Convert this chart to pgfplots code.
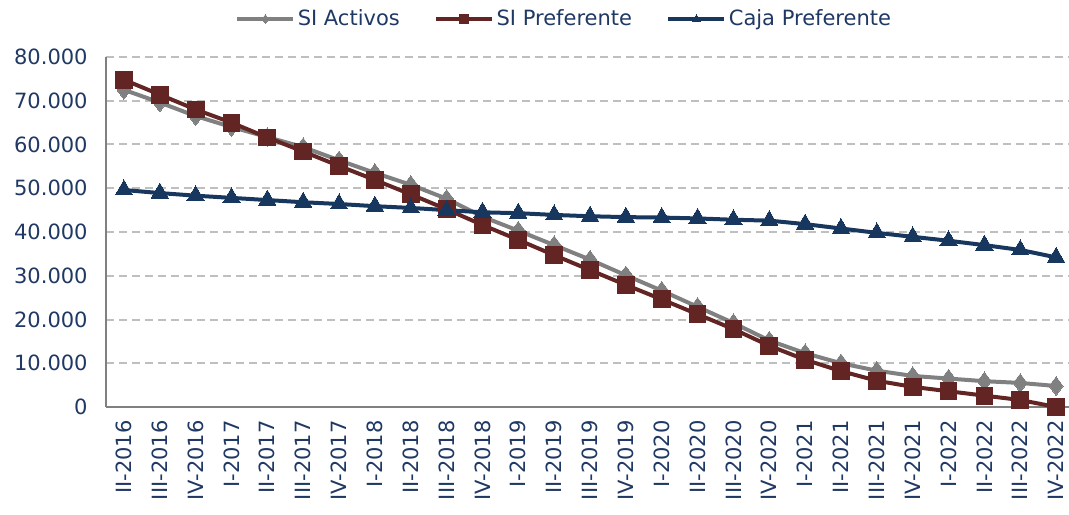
\documentclass[border=0pt]{standalone}
\usepackage{fontspec}
\setmainfont{DejaVu Sans}
\usepackage{pgfplots}
\pgfplotsset{compat=1.18}
\definecolor{sigray}{HTML}{808080}
\definecolor{sired}{HTML}{632523}
\definecolor{cajablue}{HTML}{17375E}
\definecolor{txt}{HTML}{1F3864}
\definecolor{gridc}{HTML}{BFBFBF}
\pgfplotstableread{
x act pref caja
0  72.5 74.8 49.6
1  69.6 71.4 48.9
2  66.5 68.0 48.3
3  64.0 65.0 47.8
4  61.7 61.6 47.3
5  59.4 58.4 46.8
6  56.4 55.1 46.4
7  53.5 51.9 45.9
8  50.8 48.6 45.5
9  47.6 45.2 45.0
10 43.5 41.6 44.5
11 40.3 38.2 44.3
12 37.0 34.7 43.9
13 33.7 31.3 43.6
14 30.1 27.9 43.4
15 26.6 24.6 43.3
16 22.9 21.2 43.1
17 19.2 17.8 42.8
18 15.2 14.0 42.6
19 12.3 10.8 41.8
20 10.0 8.2  40.8
21 8.3  6.0  39.8
22 7.1  4.6  38.9
23 6.5  3.6  38.0
24 5.9  2.6  37.0
25 5.5  1.6  35.9
26 4.8  0.0  34.2
}\datatable
\begin{document}
\begin{tikzpicture}
\begin{axis}[
  name=ax,
  scale only axis,
  width=481.5pt, height=175pt,
  xmin=-0.5, xmax=26.36,
  ymin=0, ymax=80,
  clip=false,
  axis x line=bottom, axis y line=left,
  axis line style={draw=sigray, line width=1pt, -},
  xtick={0,...,26},
  xticklabels={II-2016,III-2016,IV-2016,I-2017,II-2017,III-2017,IV-2017,I-2018,II-2018,III-2018,IV-2018,I-2019,II-2019,III-2019,IV-2019,I-2020,II-2020,III-2020,IV-2020,I-2021,II-2021,III-2021,IV-2021,I-2022,II-2022,III-2022,IV-2022},
  ytick={0,10,...,80},
  yticklabels={0,10.000,20.000,30.000,40.000,50.000,60.000,70.000,80.000},
  major tick length=0pt,
  ymajorgrids,
  grid style={draw=gridc, line width=1pt, dash pattern=on 4pt off 2.5pt},
  tick label style={font=\fontsize{10.5}{12}\selectfont, text=txt, inner sep=0pt},
  xticklabel style={rotate=90, anchor=east},
  xticklabel shift=6.5pt,
  yticklabel shift=9pt,
  legend columns=3,
  legend style={draw=none, fill=none, at={(0.4756,1.1086)}, anchor=center,
    font=\fontsize{10.5}{12}\selectfont, text=txt,
    /tikz/every even column/.append style={column sep=16pt},
    nodes={inner sep=1pt}},
  legend image code/.code={\draw[#1, line width=2.4pt, mark repeat=2, mark phase=2, mark size=2.2pt] plot coordinates {(0pt,0pt)(14pt,0pt)(28pt,0pt)};},
]
\addplot[sigray, line width=2pt, mark=diamond*, mark size=4.6pt, mark options={fill=sigray, draw=sigray, line width=0pt}] table[x=x,y=act] {\datatable};
\addlegendentry{SI Activos}
\addplot[sired, line width=2pt, mark=square*, mark size=4.2pt, mark options={fill=sired, draw=sired, line width=0pt}] table[x=x,y=pref] {\datatable};
\addlegendentry{SI Preferente}
\addplot[cajablue, line width=2pt, mark=triangle*, mark size=5pt, mark options={fill=cajablue, draw=cajablue, line width=0pt}] table[x=x,y=caja] {\datatable};
\addlegendentry{Caja Preferente}
\end{axis}
\pgfresetboundingbox
\path[use as bounding box] ([shift={(-53pt,-53.5pt)}]ax.south west) rectangle ([shift={(0pt,28.5pt)}]ax.north east);
\end{tikzpicture}
\end{document}
